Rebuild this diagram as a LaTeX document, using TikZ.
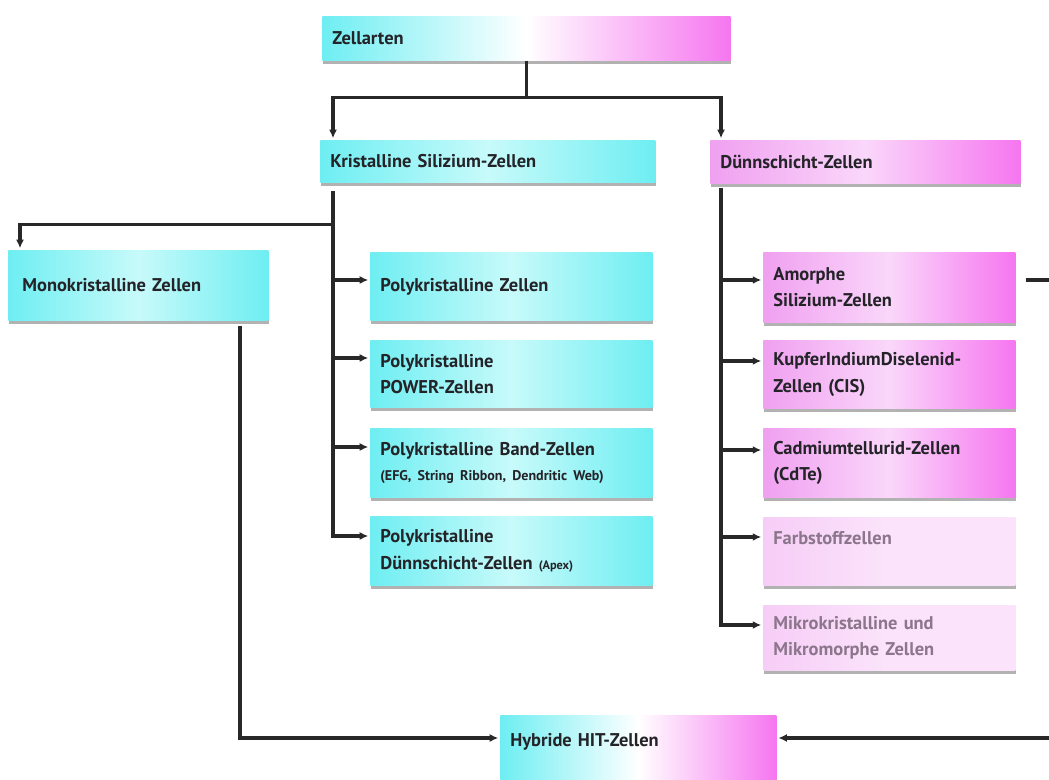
\documentclass[tikz,border=0pt]{standalone}
\usepackage{fontspec}
\setmainfont{PT Sans}
\usetikzlibrary{arrows.meta,positioning,shadows,calc}

\definecolor{cyanA}{RGB}{110,238,242}
\definecolor{cyanB}{RGB}{200,250,250}
\definecolor{pinkA}{RGB}{246,118,240}
\definecolor{pinkB}{RGB}{240,160,240}
\definecolor{pinkC}{RGB}{250,215,250}
\definecolor{pinkD}{RGB}{246,205,246}
\definecolor{pinkE}{RGB}{251,228,251}
\definecolor{textdark}{RGB}{35,35,40}
\definecolor{textgray}{RGB}{140,118,140}
\definecolor{linegray}{RGB}{40,40,40}

\tikzset{
  box/.style={rectangle, anchor=north west, inner xsep=0.2cm, align=left,
    font=\bfseries\fontsize{10.5}{15}\selectfont, text=textdark,
    drop shadow={shadow xshift=0.6pt, shadow yshift=-2pt, fill=black!50, opacity=0.6}},
  mixbox/.style={box, left color=cyanA, right color=pinkA, middle color=white},
  cyanbox/.style={box, left color=cyanA, right color=cyanA, middle color=cyanB},
  pinkbox/.style={box, left color=pinkB, right color=pinkA, middle color=pinkC},
  palebox/.style={box, left color=pinkD, right color=pinkE, middle color=pinkE, text=textgray},
  conn/.style={draw=linegray, line width=1.8pt},
  arr/.style={conn, -{Latex[length=1.7mm,width=1.6mm]}, shorten >=1pt}
}

\begin{document}
\begin{tikzpicture}[x=0.02cm,y=-0.02cm]
\clip (0,0) rectangle (1049,780);
\fill[white] (0,0) rectangle (1049,780);

% Ebene 1
\node[mixbox, text width=7.76cm, minimum height=0.88cm] (zell) at (322,16) {Zellarten};

% Ebene 2
\node[cyanbox, text width=6.3cm, minimum height=0.84cm] (krist) at (320,140) {Kristalline Silizium-Zellen};
\node[pinkbox, text width=5.8cm, minimum height=0.86cm] (duenn) at (710,140) {Dünnschicht-Zellen};

% kristalline Zellen
\node[cyanbox, inner xsep=0.28cm, text width=4.64cm, minimum height=1.4cm] (mono) at (8,250) {Monokristalline Zellen};
\node[cyanbox, text width=5.24cm, minimum height=1.36cm] (poly1) at (370,252) {Polykristalline Zellen};
\node[cyanbox, text width=5.24cm, minimum height=1.34cm] (poly2) at (370,340) {Polykristalline\\POWER-Zellen};
\node[cyanbox, text width=5.24cm, minimum height=1.38cm] (poly3) at (370,428) {Polykristalline Band-Zellen\\[-1pt]{\fontsize{8}{10}\selectfont (EFG, String Ribbon, Dendritic Web)}};
\node[cyanbox, text width=5.24cm, minimum height=1.38cm] (poly4) at (370,516) {Polykristalline\\Dünnschicht-Zellen {\fontsize{7}{9}\selectfont (Apex)}};

% Duennschicht-Zellen
\node[pinkbox, text width=4.64cm, minimum height=1.4cm] (amorph) at (763,252) {Amorphe\\Silizium-Zellen};
\node[pinkbox, text width=4.64cm, minimum height=1.36cm] (cis) at (763,340) {KupferIndiumDiselenid-\\Zellen (CIS)};
\node[pinkbox, text width=4.64cm, minimum height=1.38cm] (cdte) at (763,428) {Cadmiumtellurid-Zellen\\(CdTe)};
\node[palebox, text width=4.64cm, minimum height=1.36cm] (farb) at (763,517) {Farbstoffzellen\\\mbox{}};
\node[palebox, text width=4.64cm, minimum height=1.3cm] (mikro) at (763,605) {Mikrokristalline und\\Mikromorphe Zellen};

% Hybrid
\node[mixbox, text width=5.12cm, minimum height=1.5cm] (hit) at (500,715) {Hybride HIT-Zellen\\\mbox{}};

% Verbindungen oben
\coordinate (split) at ($(zell.south)+(0,37)$);
\draw[conn] (zell.south) -- (split);
\draw[arr] (split) -| ($(krist.north west)+(13,0)$);
\draw[arr] (split) -| ($(duenn.north west)+(11,0)$);

% Verbindungen kristallin
\coordinate (kv) at ($(krist.south west)+(13,8)$);
\draw[arr] (kv) |- ($(poly4.north west)+(0,20)$);
\foreach \n/\d in {poly1/28, poly2/18, poly3/19}
  \draw[arr] ($(kv |- \n.north)+(0,\d)$) -- ($(\n.north west)+(0,\d)$);
\draw[arr] ($(kv)+(0,34)$) -| ($(mono.north west)+(12,0)$);

% Verbindungen Duennschicht
\coordinate (dv) at ($(duenn.south west)+(11,4)$);
\draw[arr] (dv) |- ($(mikro.north west)+(0,20)$);
\foreach \n/\d in {amorph/28, cis/21, cdte/22, farb/20}
  \draw[arr] ($(dv |- \n.north)+(0,\d)$) -- ($(\n.north west)+(0,\d)$);

% Verbindungen HIT
\draw[arr] ($(mono.south west)+(232,5)$) |- ($(hit.north west)+(0,23)$);
\draw[arr] ($(amorph.north east)+(10,28)$) -- ++(60,0) |- ($(hit.north east)+(0,23)$);
\end{tikzpicture}
\end{document}
